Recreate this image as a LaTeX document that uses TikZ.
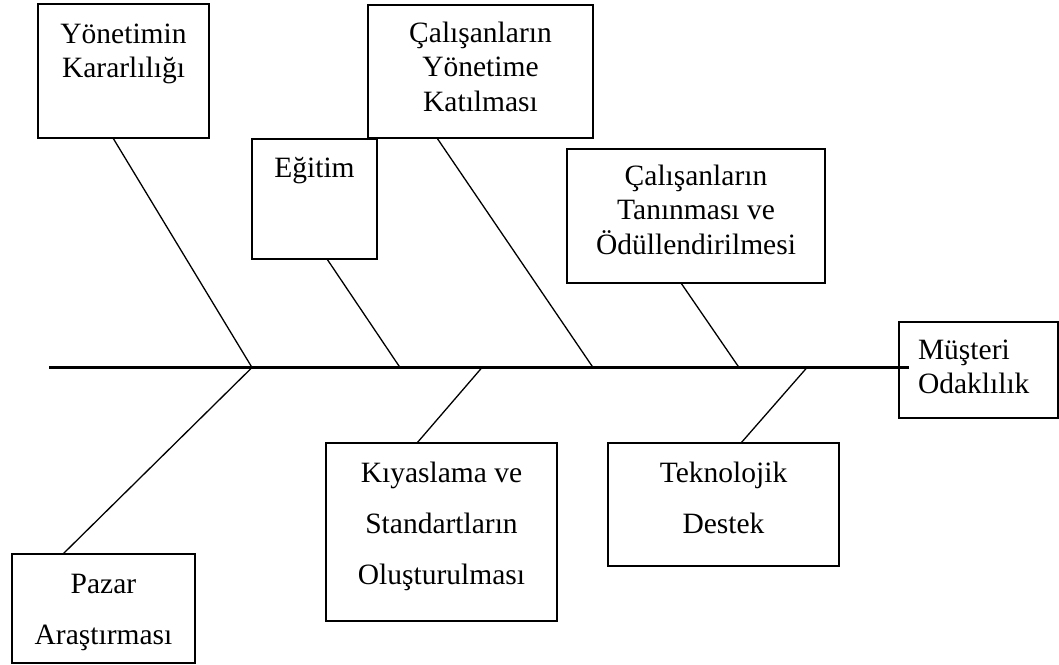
\documentclass[tikz,border=0pt]{standalone}
\usepackage{fontspec}
\setmainfont{Liberation Serif}
\newcommand{\firstlinestrut}{\rule{0pt}{27pt}}
\begin{document}
\begin{tikzpicture}[x=1pt,y=-1pt,
  box/.style={draw,line width=1.3pt,rectangle,inner sep=0pt,outer sep=0pt},
  lbl/.style={inner sep=0pt,outer sep=0pt,align=center,anchor=north,
    font=\fontsize{29.5}{34.5}\selectfont},
  lblwide/.style={lbl,font=\fontsize{29.5}{51}\selectfont},
  bone/.style={line width=1.3pt},
  spine/.style={line width=2.6pt}]
\useasboundingbox (0,0) rectangle (1059,664);

% cause boxes
\node[box,minimum width=171,minimum height=134] (yk) at (123.5,71) {};
\node[box,minimum width=225,minimum height=133] (cy) at (480.5,71.5) {};
\node[box,minimum width=125,minimum height=120] (eg) at (314.5,199) {};
\node[box,minimum width=258,minimum height=134] (ct) at (696,216) {};
\node[box,minimum width=159,minimum height=96] (mo) at (978.5,370) {};
\node[box,minimum width=183,minimum height=109] (pa) at (103.5,608.5) {};
\node[box,minimum width=231,minimum height=178] (ks) at (441.5,532) {};
\node[box,minimum width=231,minimum height=123] (td) at (723.5,504.5) {};

% box texts
\node[lbl] (yk-t) at (123.5,16) {\firstlinestrut Yönetimin\\Kararlılığı};
\node[lbl] (cy-t) at (480.5,15) {\firstlinestrut Çalışanların\\Yönetime\\Katılması};
\node[lbl] (eg-t) at (314.5,150) {\firstlinestrut Eğitim};
\node[lbl] (ct-t) at (696,158) {\firstlinestrut Çalışanların\\Tanınması ve\\Ödüllendirilmesi};
\node[lbl,align=left,anchor=north west] (mo-t) at (918,332) {\firstlinestrut Müşteri\\Odaklılık};
\node[lblwide] (pa-t) at (103.5,566) {\firstlinestrut Pazar\\Araştırması};
\node[lblwide] (ks-t) at (441.5,455) {\firstlinestrut Kıyaslama ve\\Standartların\\Oluşturulması};
\node[lblwide] (td-t) at (723.5,455) {\firstlinestrut Teknolojik\\Destek};

% spine and joints
\coordinate (tail) at (49,367.5);
\coordinate (head) at (909,367.5);
\coordinate (j1) at (252,367.5);
\coordinate (j2) at (400,367.5);
\coordinate (j3) at (482,367.5);
\coordinate (j4) at (593,367.5);
\coordinate (j5) at (739,367.5);
\coordinate (j6) at (807,367.5);
\draw[spine] (tail) -- (head);

% bones
\draw[bone] ([xshift=75pt]yk.south west) -- (j1);
\draw[bone] (j1) -- ([xshift=51pt]pa.north west);
\draw[bone] ([xshift=75pt]eg.south west) -- (j2);
\draw[bone] (j3) -- ([xshift=91pt]ks.north west);
\draw[bone] ([xshift=69pt]cy.south west) -- (j4);
\draw[bone] ([xshift=114pt]ct.south west) -- (j5);
\draw[bone] (j6) -- ([xshift=133pt]td.north west);
\end{tikzpicture}
\end{document}
